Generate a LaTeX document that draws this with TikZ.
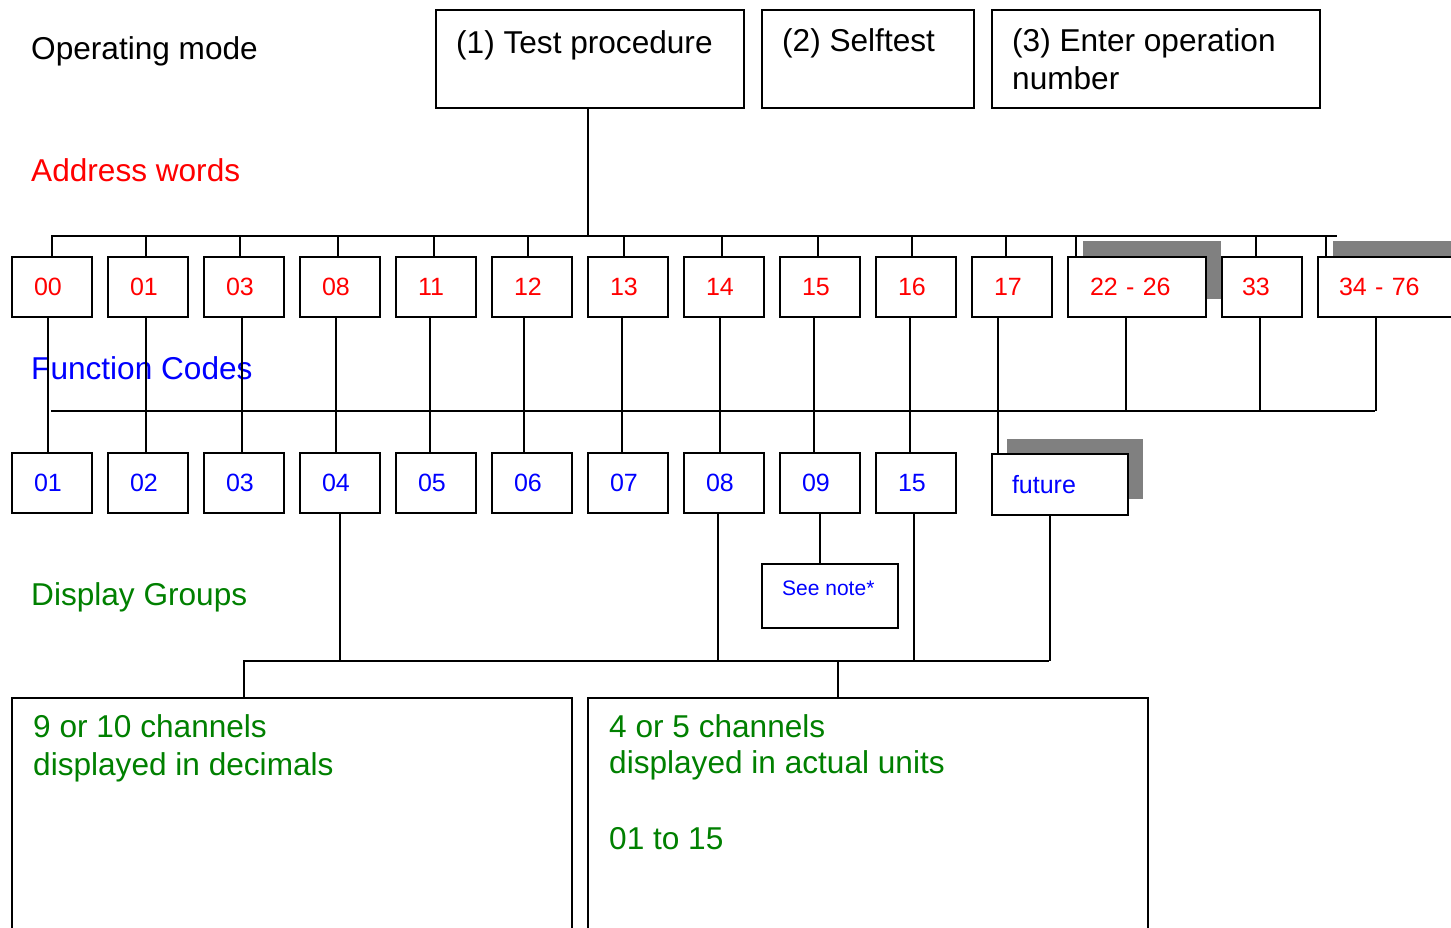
\documentclass[tikz,border=0pt]{standalone}
\usepackage{fontspec}
\setmainfont{Liberation Sans}
\usetikzlibrary{calc}
\definecolor{dgreen}{RGB}{0,128,0}
\definecolor{shadegray}{RGB}{128,128,128}
\newcommand\TxtBig{\fontsize{31.6}{37}\selectfont}
\newcommand\TxtMid{\fontsize{25}{30}\selectfont}
\newcommand\TxtSm{\fontsize{21}{25}\selectfont}
\begin{document}
\begin{tikzpicture}[x=1pt,y=-1pt,
  conn/.style={line width=2pt},
  boxbase/.style={draw, line width=2pt, fill=white, inner sep=0pt},
  abox/.style={boxbase, inner xsep=22pt, inner ysep=0pt, minimum height=60pt, align=left, anchor=west, text width=36pt, font=\TxtMid, text=red},
  fbox/.style={abox, text=blue},
  lbl/.style={anchor=base west, inner sep=0pt, font=\TxtBig},
  shadowbox/.style={fill=shadegray, draw=none}]
\clip (0,0) rectangle (1451,927);
\fill[white] (0,0) rectangle (1451,927);

% left labels
\node[lbl] (lop) at (31,59) {Operating mode};
\node[lbl, text=red] (lad) at (31,181) {Address words};
\node[lbl, text=blue] (lfc) at (31,379) {Function Codes};
\node[lbl, text=dgreen] (ldg) at (31,605) {Display Groups};

% shadows
\fill[shadowbox] (1083,241) rectangle (1221,299);
\fill[shadowbox] (1333,241) rectangle (1460,299);
\fill[shadowbox] (1007,439) rectangle (1143,499);

% operating mode boxes
\node[boxbase, anchor=north west, minimum width=308pt, minimum height=98pt] (m1) at (435,9) {};
\node[boxbase, anchor=north west, minimum width=212pt, minimum height=98pt] (m2) at (761,9) {};
\node[boxbase, anchor=north west, minimum width=328pt, minimum height=98pt] (m3) at (991,9) {};
\node[lbl] (m1t) at ($(m1.north west)+(21,44)$) {(1) Test procedure};
\node[lbl] (m2t) at ($(m2.north west)+(21,42)$) {(2) Selftest};
\node[lbl] (m3t) at ($(m3.north west)+(21,42)$) {(3) Enter operation};
\node[lbl] (m3u) at ($(m3.north west)+(21,80)$) {number};

% address boxes
\node[abox] (a00) at (11,287) {00};
\node[abox] (a01) at (107,287) {01};
\node[abox] (a03) at (203,287) {03};
\node[abox] (a08) at (299,287) {08};
\node[abox] (a11) at (395,287) {11};
\node[abox] (a12) at (491,287) {12};
\node[abox] (a13) at (587,287) {13};
\node[abox] (a14) at (683,287) {14};
\node[abox] (a15) at (779,287) {15};
\node[abox] (a16) at (875,287) {16};
\node[abox] (a17) at (971,287) {17};
\node[abox, text width=94pt] (a22) at (1067,287) {22 - 26};
\node[abox, inner xsep=20pt, text width=40pt] (a33) at (1221,287) {33};
\node[abox, inner xsep=21pt, text width=96pt] (a34) at (1317,287) {34 - 76};

% function code boxes
\node[fbox] (f01) at (11,483) {01};
\node[fbox] (f02) at (107,483) {02};
\node[fbox] (f03) at (203,483) {03};
\node[fbox] (f04) at (299,483) {04};
\node[fbox] (f05) at (395,483) {05};
\node[fbox] (f06) at (491,483) {06};
\node[fbox] (f07) at (587,483) {07};
\node[fbox] (f08) at (683,483) {08};
\node[fbox] (f09) at (779,483) {09};
\node[fbox] (f15) at (875,483) {15};
\node[fbox, inner xsep=20pt, text width=96pt, minimum height=61pt] (ffut) at (991,484.5) {future};

% see note
\node[boxbase, anchor=north west, minimum width=136pt, minimum height=64pt] (note) at (761,563) {};
\node[anchor=base west, inner sep=0pt, font=\TxtSm, text=blue] (notet) at ($(note.north west)+(21,32.5)$) {See note*};

% display group boxes
\node[boxbase, anchor=north west, minimum width=560pt, minimum height=300pt] (g1) at (11,697) {};
\node[boxbase, anchor=north west, minimum width=560pt, minimum height=300pt] (g2) at (587,697) {};
\node[lbl, text=dgreen] (g1a) at ($(g1.north west)+(22,40)$) {9 or 10 channels};
\node[lbl, text=dgreen] (g1b) at ($(g1.north west)+(22,78)$) {displayed in decimals};
\node[lbl, text=dgreen] (g2a) at ($(g2.north west)+(22,40)$) {4 or 5 channels};
\node[lbl, text=dgreen] (g2b) at ($(g2.north west)+(22,76)$) {displayed in actual units};
\node[lbl, text=dgreen] (g2c) at ($(g2.north west)+(22,152)$) {01 to 15};

% address bus
\coordinate (busA) at (51,236);
\coordinate (busAend) at (1337,236);
\draw[conn] (busA) -- (busAend);
\draw[conn] ([xshift=-2pt]m1.south) -- ([xshift=-2pt]m1.south |- busA);
\foreach \n/\s in {00/0, 01/-2, 03/-4, 08/-2, 11/-2, 12/-4, 13/-4, 14/-2, 15/-2, 16/-4, 17/-6, 22/-61, 33/-6, 34/-61}
  \draw[conn] ([xshift=\s pt]a\n.north) -- ([xshift=\s pt]a\n.north |- busA);

% address -> function codes
\foreach \a/\f/\s in {00/01/-4, 01/02/-2, 03/03/-2, 08/04/-4, 11/05/-6, 12/06/-8, 13/07/-6, 14/08/-4, 15/09/-6, 16/15/-6}
  \draw[conn] ([xshift=\s pt]a\a.south) -- ([xshift=\s pt]a\a.south |- f\f.north);
\draw[conn] ([xshift=-14pt]a17.south) -- ([xshift=-14pt]a17.south |- ffut.north);

% function code bus
\coordinate (busB) at (51,411);
\coordinate (busBend) at (1375,411);
\draw[conn] (busB) -- (busBend);
\draw[conn] ([xshift=-11pt]a22.south) -- ([xshift=-11pt]a22.south |- busB);
\draw[conn] ([xshift=-2pt]a33.south) -- ([xshift=-2pt]a33.south |- busB);
\draw[conn] ([xshift=-11pt]a34.south) -- ([xshift=-11pt]a34.south |- busB);

% display bus
\coordinate (busC) at (243,661);
\coordinate (busCend) at (1049,661);
\draw[conn] (busC) -- (busCend);
\draw[conn] (f04.south) -- (f04.south |- busC);
\draw[conn] ([xshift=-6pt]f08.south) -- ([xshift=-6pt]f08.south |- busC);
\draw[conn] (f09.south) -- (f09.south |- note.north);
\draw[conn] ([xshift=-2pt]f15.south) -- ([xshift=-2pt]f15.south |- busC);
\draw[conn] ([xshift=-10pt]ffut.south) -- ([xshift=-10pt]ffut.south |- busC);
\draw[conn] ([xshift=-48pt]g1.north) -- ([xshift=-48pt]g1.north |- busC);
\draw[conn] ([xshift=-30pt]g2.north) -- ([xshift=-30pt]g2.north |- busC);
\end{tikzpicture}
\end{document}
